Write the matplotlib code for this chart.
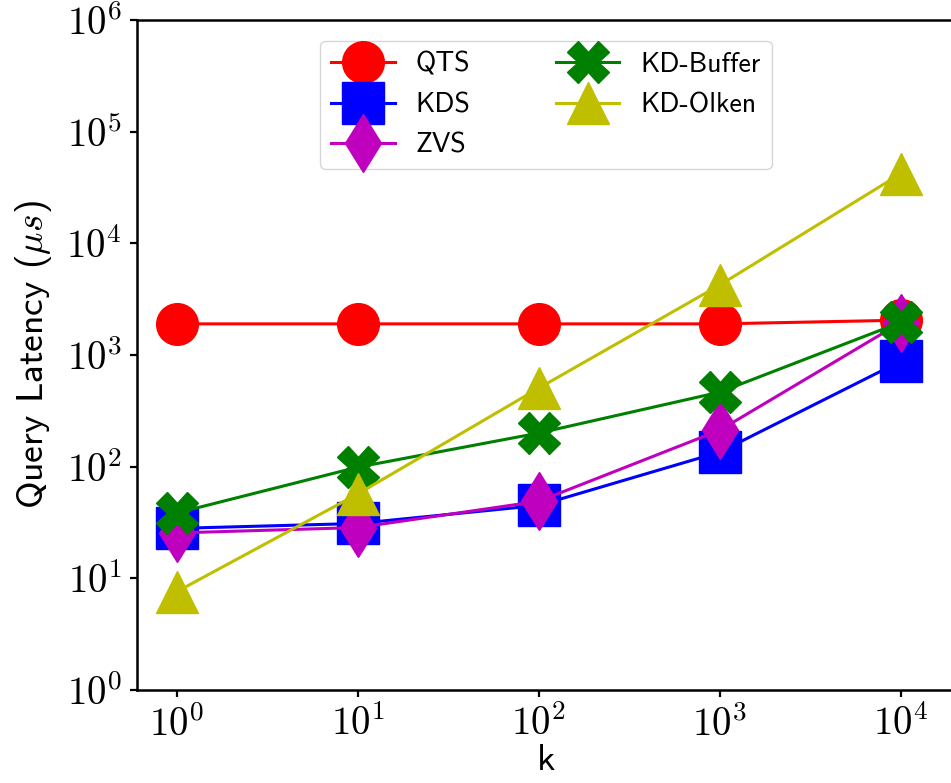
import matplotlib
matplotlib.use("Agg")
from matplotlib import pyplot as plt
from matplotlib.ticker import LogLocator, NullLocator, FuncFormatter
import numpy as np

# Query latency (microseconds) for each method as k grows.
k_values = [1, 10, 100, 1000, 10000]
qts = [1900, 1900, 1900, 1900, 2050]
kds = [28, 31, 45, 135, 880]
zvs = [25.5, 28.5, 49, 212, 1950]
kd_buffer = [38.5, 99, 200, 465, 1960]
kd_olken = [7.6, 57, 505, 4230, 42000]

plt.rcParams["mathtext.fontset"] = "cm"
plt.rcParams["font.family"] = ["cmss10", "DejaVu Sans"]
plt.rcParams["axes.formatter.use_mathtext"] = True

fig = plt.figure(figsize=(9.51, 7.83), dpi=100)
# Axes run a little past the right edge of the canvas.
ax = fig.add_axes([137 / 951, 93 / 783, 818 / 951, 670 / 783])

ms = 30
lw = 2.2
ax.plot(k_values, qts, color="r", marker="o", markersize=ms, linewidth=lw, label="QTS")
ax.plot(k_values, kds, color="b", marker="s", markersize=ms, linewidth=lw, label="KDS")
ax.plot(k_values, zvs, color="m", marker="d", markersize=ms, linewidth=lw, label="ZVS")
ax.plot(k_values, kd_buffer, color="g", marker="X", markersize=ms, linewidth=lw, label="KD-Buffer")
ax.plot(k_values, kd_olken, color="y", marker="^", markersize=ms, linewidth=lw, label="KD-Olken")

ax.set_xscale("log")
ax.set_yscale("log")
ax.set_xlim(10 ** -0.22, 10 ** 4.3)
ax.set_ylim(1, 1e6)

# Serif powers of ten on both axes, no minor ticks.
pow10 = FuncFormatter(lambda v, pos: r"$10^{%d}$" % int(round(np.log10(v))))
for axis in (ax.xaxis, ax.yaxis):
    axis.set_major_locator(LogLocator(base=10, numticks=10))
    axis.set_minor_locator(NullLocator())
    axis.set_major_formatter(pow10)

for spine in ax.spines.values():
    spine.set_linewidth(1.8)
ax.tick_params(which="major", labelsize=28, length=5, width=1.6, pad=6)

ax.set_xlabel("k", fontsize=27, labelpad=0)
ax.set_ylabel(r"Query Latency ($\mu s$)", fontsize=27)
ax.yaxis.set_label_coords(-0.102, 0.5)

ax.legend(loc="upper center", ncol=2, fontsize=20, handlelength=2.27,
          handletextpad=0.75, columnspacing=3.1, borderaxespad=0.75,
          labelspacing=0.55)

fig.savefig("out.png", dpi=100)
